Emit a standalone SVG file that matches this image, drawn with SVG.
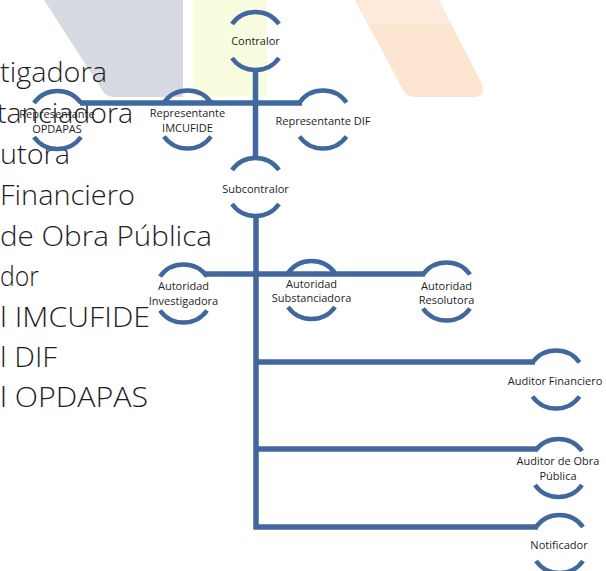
<svg xmlns="http://www.w3.org/2000/svg" width="606" height="571" viewBox="0 0 606 571">
<defs>
<style>
.bg-grey{fill:#d6dbe1}
.bg-yellow{fill:#f8fde0}
.bg-orange{fill:#fde6d1}
.big{font-family:"Open Sans","Liberation Sans",sans-serif;font-weight:300;font-size:27px;fill:#1e1e1e}
.arc{fill:none;stroke:#41689e;stroke-width:4.5}
.conn{fill:none;stroke:#41689e;stroke-width:5.5;stroke-linejoin:miter}
.lbl{font-family:"Open Sans","Liberation Sans",sans-serif;font-size:11px;fill:#1e1e1e;text-anchor:middle;dominant-baseline:central}
</style>
</defs>
<!-- background decoration -->
<g id="background">
<path class="bg-grey" d="M44,0 H183 V97 H114 Q106,97 102,90 Z"/>
<rect class="bg-yellow" x="193" y="0" width="74" height="96"/>
<path class="bg-orange" d="M355,0 H439 L482,84 Q486,97 474,97 H414 Q407,97 403,90 Z"/>
<path d="M355,0 H439 L451,24 H368 Z" fill="#fdeada"/>
</g>
<!-- partially clipped large text -->
<g id="bigtext">
<text class="big" x="0" y="82" textLength="107" lengthAdjust="spacingAndGlyphs">tigadora</text>
<text class="big" x="-3" y="123" textLength="136" lengthAdjust="spacingAndGlyphs">tanciadora</text>
<text class="big" x="0" y="164" textLength="70" lengthAdjust="spacingAndGlyphs">utora</text>
<text class="big" x="0" y="205" textLength="135" lengthAdjust="spacingAndGlyphs">Financiero</text>
<text class="big" x="0" y="246" textLength="212" lengthAdjust="spacingAndGlyphs">de Obra Pública</text>
<text class="big" x="0" y="286" textLength="39" lengthAdjust="spacingAndGlyphs">dor</text>
<text class="big" x="0" y="327" textLength="150" lengthAdjust="spacingAndGlyphs">l IMCUFIDE</text>
<text class="big" x="0" y="367" textLength="57" lengthAdjust="spacingAndGlyphs">l DIF</text>
<text class="big" x="0" y="407" textLength="148" lengthAdjust="spacingAndGlyphs">l OPDAPAS</text>
</g>
<g id="connectors">
<path class="conn" d="M255.5,70 V158"/>
<path class="conn" d="M80,103 H302"/>
<path class="conn" d="M256,216 V527 H538"/>
<path class="conn" d="M205,274 H425"/>
<path class="conn" d="M256,362 H535"/>
<path class="conn" d="M256,449 H537"/>
</g>
<g id="contralor">
<path class="arc" d="M232,24 A29,29 0 0 1 279,24 M232,58 A29,29 0 0 0 279,58"/>
<text class="lbl" x="255.5" y="40">Contralor</text>
</g>
<g id="rep-opdapas">
<path class="arc" d="M34,103 A29,29 0 0 1 81,103 M34,137 A29,29 0 0 0 81,137"/>
<text class="lbl" x="57" y="113">Representante</text>
<text class="lbl" x="57" y="128">OPDAPAS</text>
</g>
<g id="rep-imcufide">
<path class="arc" d="M164,102.5 A29,29 0 0 1 211,102.5 M164,136.5 A29,29 0 0 0 211,136.5"/>
<text class="lbl" x="187.5" y="112">Representante</text>
<text class="lbl" x="187.5" y="127">IMCUFIDE</text>
</g>
<g id="rep-dif">
<path class="arc" d="M299.5,102.5 A29,29 0 0 1 346.5,102.5 M299.5,136.5 A29,29 0 0 0 346.5,136.5"/>
<text class="lbl" x="323" y="120">Representante DIF</text>
</g>
<g id="subcontralor">
<path class="arc" d="M232,170 A29,29 0 0 1 279,170 M232,204 A29,29 0 0 0 279,204"/>
<text class="lbl" x="255.5" y="188">Subcontralor</text>
</g>
<g id="aut-investigadora">
<path class="arc" d="M160,276.5 A29,29 0 0 1 207,276.5 M160,310.5 A29,29 0 0 0 207,310.5"/>
<text class="lbl" x="183.5" y="285">Autoridad</text>
<text class="lbl" x="183.5" y="300">Investigadora</text>
</g>
<g id="aut-substanciadora">
<path class="arc" d="M288,273 A29,29 0 0 1 335,273 M288,307 A29,29 0 0 0 335,307"/>
<text class="lbl" x="311.5" y="283">Autoridad</text>
<text class="lbl" x="311.5" y="297">Substanciadora</text>
</g>
<g id="aut-resolutora">
<path class="arc" d="M423,274.5 A29,29 0 0 1 470,274.5 M423,308.5 A29,29 0 0 0 470,308.5"/>
<text class="lbl" x="446.5" y="285">Autoridad</text>
<text class="lbl" x="446.5" y="299">Resolutora</text>
</g>
<g id="auditor-financiero">
<path class="arc" d="M532.5,362.5 A29,29 0 0 1 579.5,362.5 M532.5,396.5 A29,29 0 0 0 579.5,396.5"/>
<text class="lbl" x="555" y="380">Auditor Financiero</text>
</g>
<g id="auditor-obra">
<path class="arc" d="M535,451 A29,29 0 0 1 582,451 M535,485 A29,29 0 0 0 582,485"/>
<text class="lbl" x="558" y="460">Auditor de Obra</text>
<text class="lbl" x="558" y="475">Pública</text>
</g>
<g id="notificador">
<path class="arc" d="M536,527 A29,29 0 0 1 583,527 M536,561 A29,29 0 0 0 583,561"/>
<text class="lbl" x="559" y="544">Notificador</text>
</g>
</svg>
